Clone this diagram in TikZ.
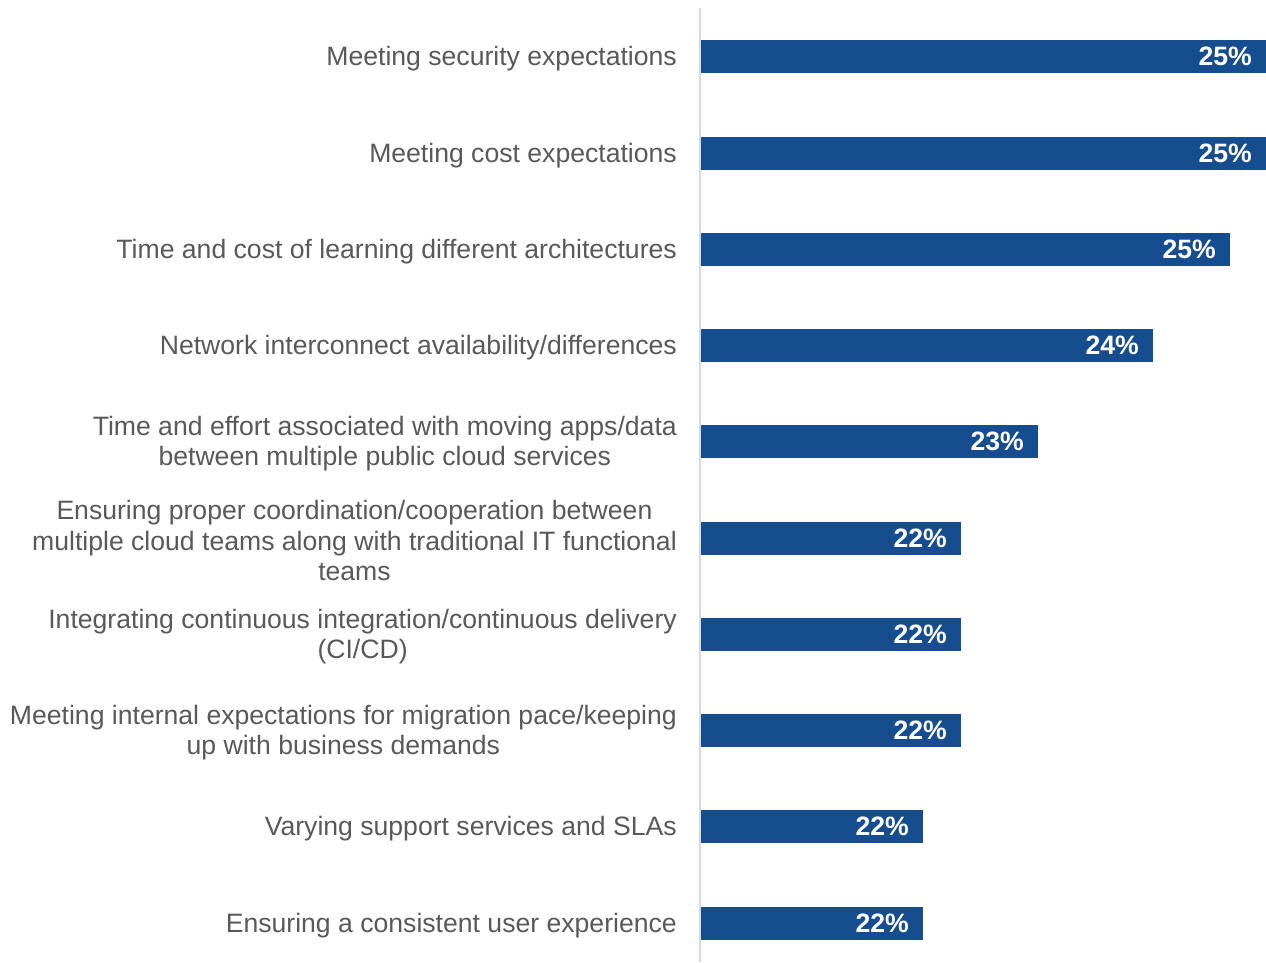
\documentclass[tikz,border=0pt]{standalone}
\usepackage{fontspec}
\setmainfont{Liberation Sans}
\definecolor{barblue}{HTML}{154D8F}
\definecolor{labelgray}{HTML}{595959}
\definecolor{axisgray}{HTML}{D9D9D9}
\begin{document}
\begin{tikzpicture}[x=1pt,y=-1pt,
  cat/.style={anchor=east,inner sep=0pt,align=center,text=labelgray,font=\fontsize{26.6}{30.6}\selectfont},
  val/.style={anchor=east,inner sep=0pt,text=white,font=\fontsize{26.6}{30.6}\selectfont\bfseries},
  bar/.style={fill=barblue,draw=none}]
\useasboundingbox (0,0) rectangle (1266,962);
\draw[axisgray,line width=2pt] (700,8) coordinate (axtop) -- (700,962) coordinate (axbot);
\foreach \y/\e/\v/\t/\n in {
  56/1266/25\%/{Meeting security expectations}/a,
  153/1266/25\%/{Meeting cost expectations}/b,
  249/1230/25\%/{Time and cost of learning different architectures}/c,
  345/1153/24\%/{Network interconnect availability/differences}/d,
  441/1038/23\%/{Time and effort associated with moving apps/data\\between multiple public cloud services}/e,
  538/961/22\%/{Ensuring proper coordination/cooperation between\\multiple cloud teams along with traditional IT functional\\teams}/f,
  634/961/22\%/{Integrating continuous integration/continuous delivery\\(CI/CD)}/g,
  730/961/22\%/{Meeting internal expectations for migration pace/keeping\\up with business demands}/h,
  826/923/22\%/{Varying support services and SLAs}/i,
  923/923/22\%/{Ensuring a consistent user experience}/j}{
  \fill[bar] (701,\y-16.5) rectangle (\e,\y+16.5);
  \node[val] (v\n) at (\e-14,\y+0.5) {\v};
  \node[cat] (c\n) at (677,\y+2.5) {\t};
}
\end{tikzpicture}
\end{document}
